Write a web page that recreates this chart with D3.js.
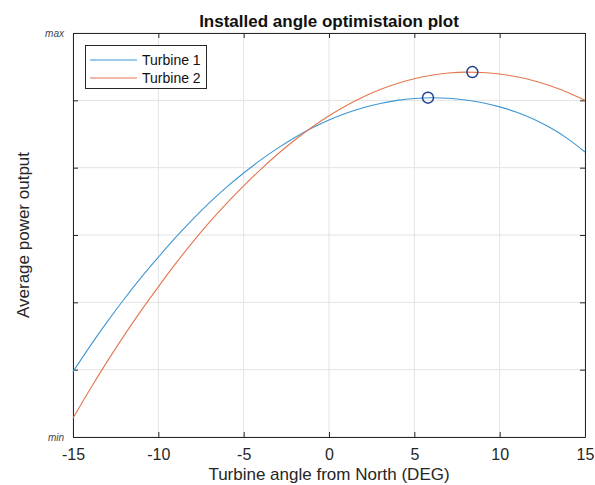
<!DOCTYPE html>
<html><head><meta charset="utf-8">
<script src="https://cdn.jsdelivr.net/npm/d3@7"></script>
<style>body{margin:0;background:#fff}svg{display:block}text{font-family:"Liberation Sans",Arial,sans-serif}</style>
</head><body><svg id="c" width="595" height="485"></svg>
<script>
const angles = [-15,-14,-13,-12,-11,-10,-9,-8,-7,-6,-5,-4,-3,-2,-1,0,1,2,3,4,5,6,7,8,9,10,11,12,13,14,15];
const turbine1 = [0.97,1.35,1.71,2.05,2.37,2.67,2.96,3.23,3.48,3.71,3.92,4.115,4.29,4.448,4.588,4.708,4.808,4.89,4.954,5.00,5.028,5.038,5.03,5.005,4.963,4.903,4.823,4.718,4.588,4.428,4.233];
const turbine2 = [0.28,0.71,1.12,1.51,1.88,2.23,2.57,2.89,3.19,3.47,3.73,3.976,4.203,4.411,4.60,4.77,4.92,5.05,5.16,5.25,5.32,5.372,5.405,5.419,5.414,5.39,5.35,5.291,5.213,5.116,5.00];
const optima = [{name:"Turbine 1", x:5.8, y:5.04},{name:"Turbine 2", x:8.4, y:5.42}];
const seriesNames = ["Turbine 1","Turbine 2"];
const colors = ["#3f96d3","#e2774f"];
const xTicks = [-15,-10,-5,0,5,10,15];
const yTicks = [0,1,2,3,4,5,6];
const yTickLabels = {0:"min",6:"max"};

const svg = d3.select("#c");
const m = {l:73, r:585, t:33, b:437};
const x = d3.scaleLinear().domain([-15,15]).range([m.l,m.r]);
const y = d3.scaleLinear().domain([0,6]).range([m.b,m.t]);
const axisCol = "#262626";

// grid
const g = svg.append("g");
g.selectAll(".gx").data(xTicks).join("line").attr("x1",d=>x(d)).attr("x2",d=>x(d)).attr("y1",m.t).attr("y2",m.b).attr("stroke","#e3e3e3").attr("stroke-width",1);
g.selectAll(".gy").data(yTicks).join("line").attr("y1",d=>y(d)).attr("y2",d=>y(d)).attr("x1",m.l).attr("x2",m.r).attr("stroke","#e3e3e3").attr("stroke-width",1);

// axes (inward ticks)
const xa = svg.append("g").attr("transform",`translate(0,${m.b})`).call(d3.axisBottom(x).tickValues(xTicks).tickSizeInner(-5).tickSizeOuter(0).tickPadding(12).tickFormat(d=>String(d)));
const xt = svg.append("g").attr("transform",`translate(0,${m.t})`).call(d3.axisTop(x).tickValues(xTicks).tickSizeInner(-5).tickSizeOuter(0).tickFormat(""));
const ya = svg.append("g").attr("transform",`translate(${m.l},0)`).call(d3.axisLeft(y).tickValues(yTicks).tickSizeInner(-5).tickSizeOuter(0).tickPadding(9).tickFormat(d=>yTickLabels[d]||""));
const yr = svg.append("g").attr("transform",`translate(${m.r},0)`).call(d3.axisRight(y).tickValues(yTicks).tickSizeInner(-5).tickSizeOuter(0).tickFormat(""));
[xa,xt,ya,yr].forEach(a=>{a.selectAll("path").attr("stroke",axisCol).attr("stroke-width",1);a.selectAll("line").attr("stroke",axisCol);});
xa.selectAll("text").attr("font-size",16).attr("fill","#262626").attr("font-family","Liberation Sans, Arial, sans-serif");
ya.selectAll("text").attr("font-size",10).attr("font-style","italic").attr("fill","#444").attr("font-family","Liberation Sans, Arial, sans-serif");

// lines
const line = d3.line().x((d,i)=>x(angles[i])).y(d=>y(d)).curve(d3.curveMonotoneX);
[turbine1,turbine2].forEach((s,i)=>{
  svg.append("path").datum(s).attr("d",line).attr("fill","none").attr("stroke",colors[i]).attr("stroke-width",1.1);
});

// optima markers
svg.selectAll(".opt").data(optima).join("circle").attr("cx",d=>x(d.x)).attr("cy",d=>y(d.y)).attr("r",5.5).attr("fill","none").attr("stroke","#1f3f8f").attr("stroke-width",1.5);

// title & labels
svg.append("text").attr("x",(m.l+m.r)/2).attr("y",27).attr("text-anchor","middle").attr("font-size",17).attr("font-weight","bold").attr("fill","#111").text("Installed angle optimistaion plot");
svg.append("text").attr("x",(m.l+m.r)/2).attr("y",480).attr("text-anchor","middle").attr("font-size",17).attr("fill","#262626").text("Turbine angle from North (DEG)");
svg.append("text").attr("transform",`translate(29,${(m.t+m.b)/2}) rotate(-90)`).attr("text-anchor","middle").attr("font-size",17).attr("fill","#262626").text("Average power output");

// legend
const lg = svg.append("g");
lg.append("rect").attr("x",85.5).attr("y",45.5).attr("width",121).attr("height",43).attr("fill","#fff").attr("stroke",axisCol).attr("stroke-width",1);
seriesNames.forEach((n,i)=>{
  const yy = 60 + i*18;
  lg.append("line").attr("x1",90).attr("x2",137).attr("y1",yy).attr("y2",yy).attr("stroke",colors[i]).attr("stroke-width",1.1);
  lg.append("text").attr("x",142).attr("y",yy+5).attr("font-size",14).attr("fill","#111").text(n);
});
</script></body></html>
